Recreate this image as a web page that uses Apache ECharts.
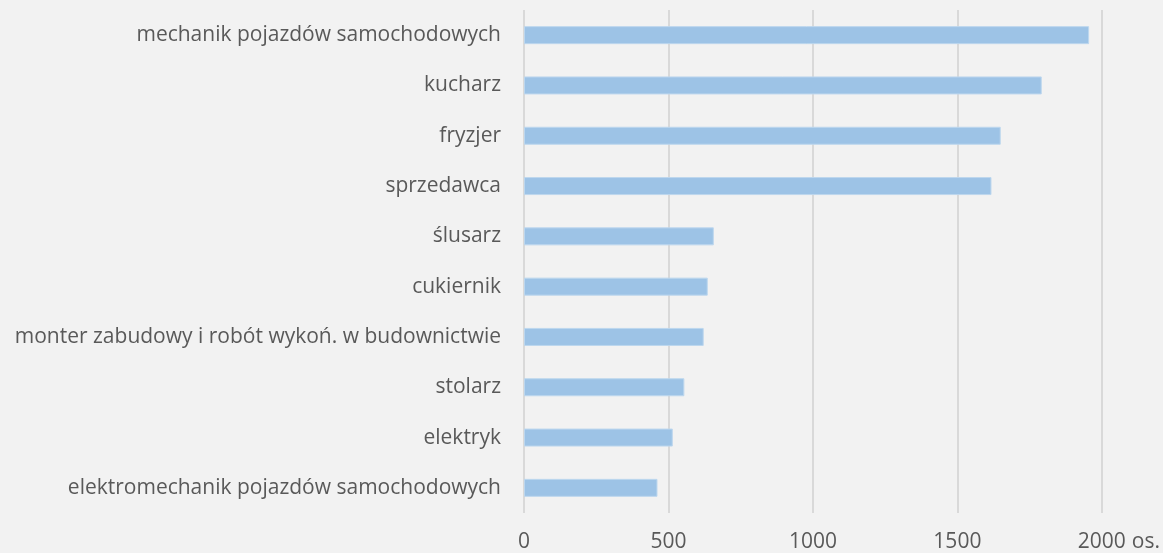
<!DOCTYPE html>
<html><head><meta charset="utf-8">
<script src="https://cdn.jsdelivr.net/npm/echarts@6/dist/echarts.min.js"></script>
<style>html,body{margin:0;padding:0;background:#f2f2f2;}#c{width:1163px;height:553px;}</style>
</head><body><div id="c"></div>
<script>
const categories = ["mechanik pojazdów samochodowych","kucharz","fryzjer","sprzedawca","ślusarz","cukiernik","monter zabudowy i robót wykoń. w budownictwie","stolarz","elektryk","elektromechanik pojazdów samochodowych"];
const values = [1956, 1792, 1650, 1618, 657, 636, 622, 555, 515, 462];
const axisMax = 2000;
const axisStep = 500;
const unitName = "os.";

const chart = echarts.init(document.getElementById('c'), null, {renderer:'canvas'});
const font = "'Open Sans', sans-serif";
chart.setOption({
  backgroundColor:'#f2f2f2',
  animation:false,
  grid:{left:524, right:60, top:10, bottom:40, containLabel:false},
  xAxis:{type:'value', min:0, max:axisMax, interval:axisStep,
    name:unitName, nameLocation:'end', nameGap:30,
    nameTextStyle:{color:'#595959', fontFamily:font, fontSize:21, verticalAlign:'top', padding:[19,0,0,0]},
    axisLine:{show:false}, axisTick:{show:false},
    axisLabel:{color:'#595959', fontFamily:font, fontSize:21, margin:19, formatter:(v)=>String(v)},
    splitLine:{show:true, lineStyle:{color:'#d9d9d9', width:2}}},
  yAxis:{type:'category', data:categories, inverse:true,
    axisLine:{show:false}, axisTick:{show:false},
    axisLabel:{color:'#595959', fontFamily:font, fontSize:21, margin:23}},
  series:[{type:'bar', data:values, barWidth:18,
    itemStyle:{color:'#9dc3e6', borderColor:'#bdd7ee', borderWidth:1}}]
});
</script></body></html>
